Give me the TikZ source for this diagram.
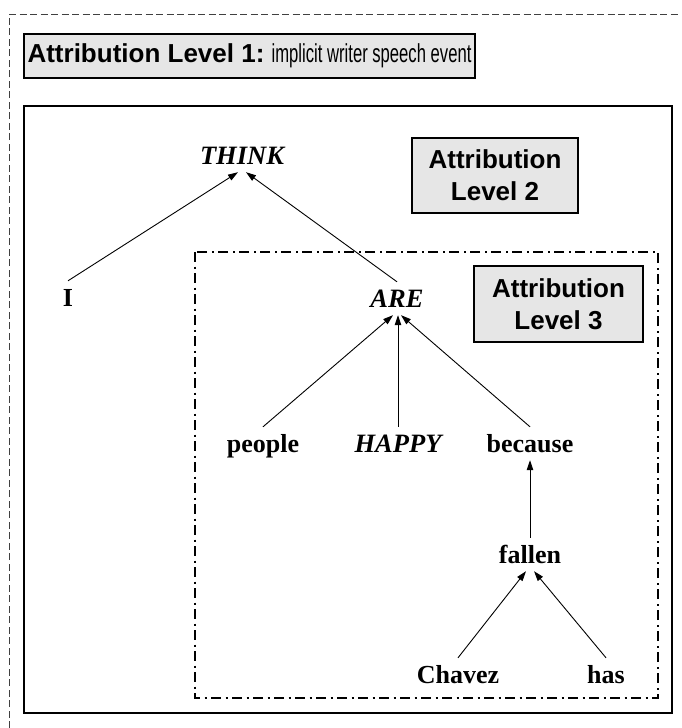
\documentclass[tikz,border=0pt]{standalone}
\usepackage{fontspec}
\usepackage{graphicx}
\setmainfont{Liberation Serif}
\newfontfamily\hv{Liberation Sans}
\usetikzlibrary{arrows.meta}
\definecolor{boxgray}{HTML}{E6E6E6}
\begin{document}
\begin{tikzpicture}[x=1pt,y=-1pt,
  word/.style={font=\fontsize{26}{30}\selectfont\bfseries, text height=17pt,
    text depth=0pt, inner xsep=2pt, inner ysep=8pt, anchor=base},
  emword/.style={word, font=\fontsize{26.5}{30}\selectfont\bfseries\itshape},
  link/.style={line width=0.9pt, -{Triangle[length=10pt,width=6.5pt]}},
  levelbox/.style={draw, line width=1.3pt, fill=boxgray, inner sep=0pt,
    font=\hv\bfseries\fontsize{26}{32}\selectfont, align=center},
  frame/.style={draw, line width=2.4pt},
  scopebox/.style={draw, line width=1.9pt,
    dash pattern=on 10pt off 4.5pt on 2pt off 4.5pt},
  pageedge/.style={draw=black!75, line width=0.8pt, dash pattern=on 7pt off 3.5pt}]
\useasboundingbox (0,0) rectangle (681,728);

% page edge and nested attribution frames
\draw[pageedge] (9,728) -- (9,14) -- (681,14);
\draw[frame] (24,106) rectangle (672,713);
\draw[scopebox] (195,252) rectangle (658,698);

% level labels
\node[levelbox, minimum width=451pt, minimum height=44pt] (lvlone) at (249.5,56)
  {Attribution Level 1:\
   \mdseries\scalebox{0.64}[1]{implicit writer speech event}};
\node[levelbox, minimum width=166pt, minimum height=75pt] (lvltwo) at (495,175.5)
  {Attribution\\Level 2};
\node[levelbox, minimum width=169pt, minimum height=76pt] (lvlthree) at (558.5,304)
  {Attribution\\Level 3};

% dependency tree
\node[emword] (think) at (242,164) {THINK};
\node[word] (i) at (68,306) {I};
\node[emword] (are) at (397,307) {ARE};
\node[word] (people) at (263,452) {people};
\node[emword] (happy) at (398,452) {HAPPY};
\node[word] (because) at (530,452) {because};
\node[word] (fallen) at (530,563) {fallen};
\node[word] (chavez) at (458,683) {Chavez};
\node[word] (has) at (606,683) {has};

\draw[link] (i.north) -- ([xshift=-4pt]think.south);
\draw[link] (are.north) -- ([xshift=4pt]think.south);
\draw[link] (people.north) -- ([xshift=-4pt]are.south);
\draw[link] (happy.north) -- (happy.north |- are.south);
\draw[link] (because.north) -- ([xshift=4pt]are.south);
\draw[link] (fallen.north) -- (because.south);
\draw[link] (chavez.north) -- ([xshift=-4pt]fallen.south);
\draw[link] (has.north) -- ([xshift=4pt]fallen.south);
\end{tikzpicture}
\end{document}
